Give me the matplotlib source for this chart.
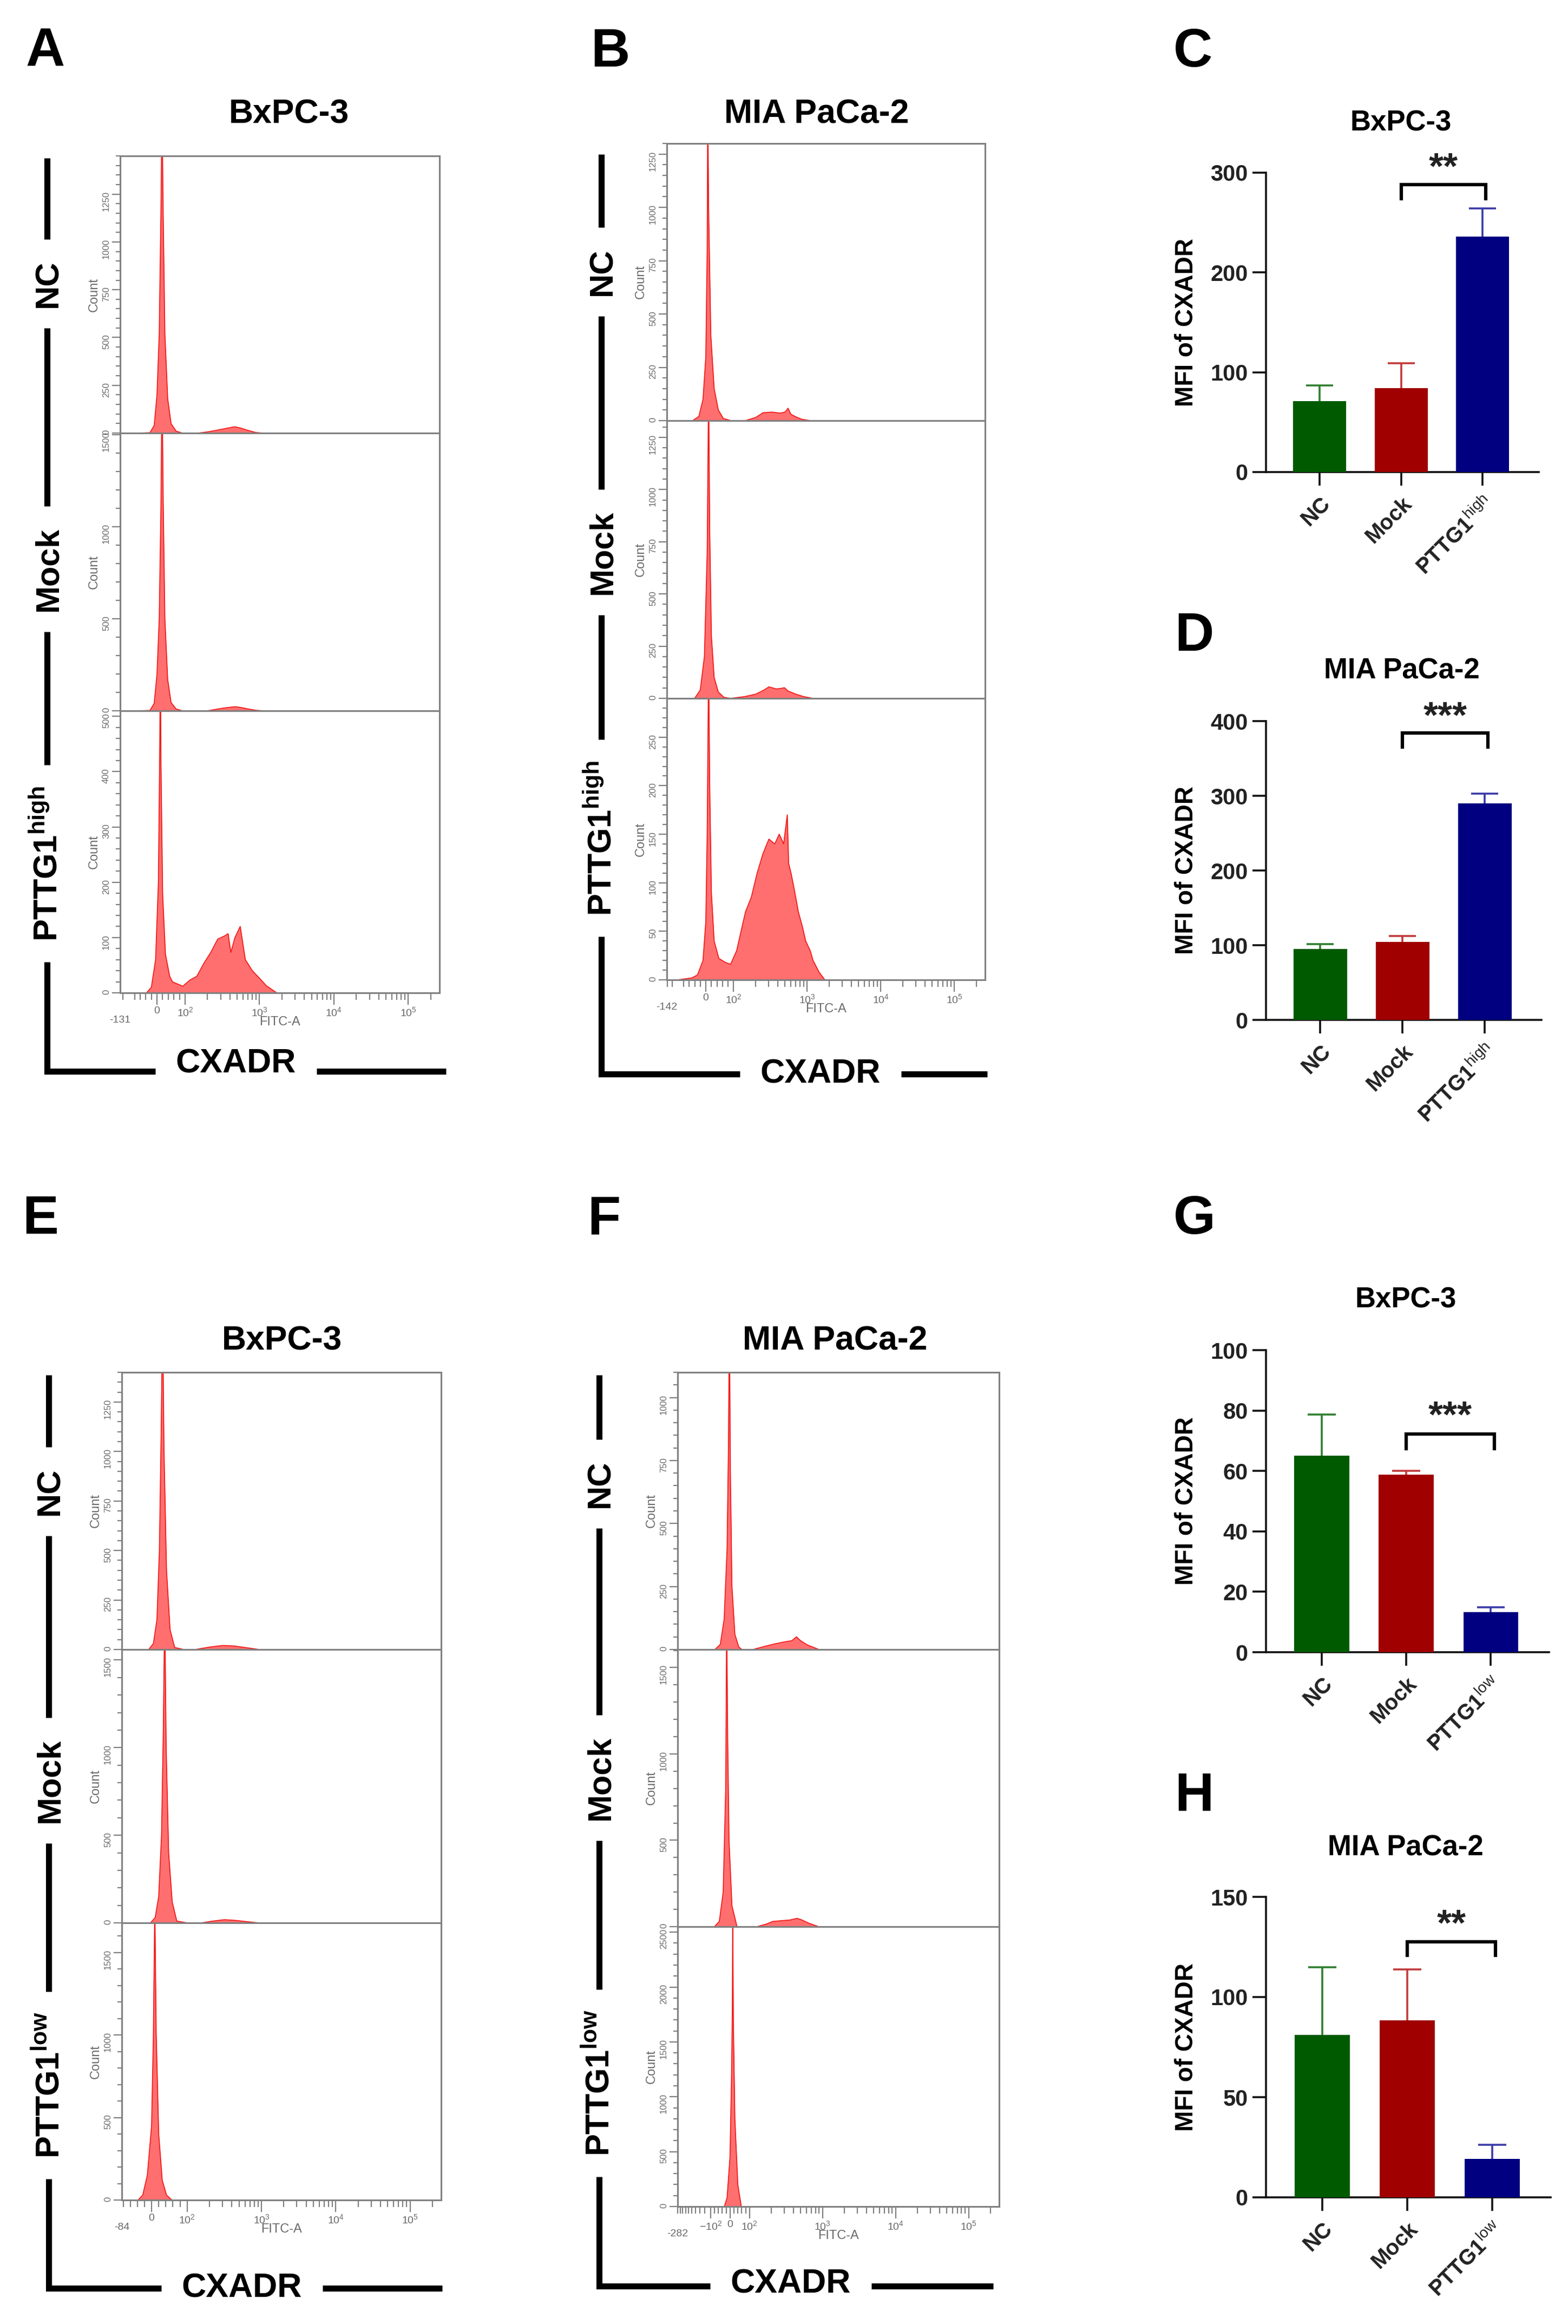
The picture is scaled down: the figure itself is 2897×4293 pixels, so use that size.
import matplotlib
matplotlib.use("Agg")
import matplotlib.pyplot as plt
import numpy as np
from matplotlib.lines import Line2D
from matplotlib.ticker import FixedLocator, MultipleLocator, AutoMinorLocator, NullFormatter

plt.rcParams["font.family"] = ["Liberation Sans", "DejaVu Sans"]
plt.rcParams["mathtext.fontset"] = "custom"
plt.rcParams["mathtext.rm"] = "Liberation Sans"
plt.rcParams["mathtext.it"] = "Liberation Sans:italic"
plt.rcParams["mathtext.bf"] = "Liberation Sans:bold"

# ---------------- data ----------------
# flow histograms: FITC-A value vs count
A_NC_x = [-60, -25, -10, 0, 8, 14, 18, 22, 28, 38, 50, 68, 90, 150, 200, 260, 330, 420, 470, 560, 700, 890, 1100]
A_NC_y = [0, 2, 40, 200, 520, 1150, 1700, 1150, 520, 180, 50, 10, 0, 0, 6, 14, 22, 30, 33, 26, 14, 3, 0]
A_MOCK_x = [-60, -25, -10, 0, 8, 14, 18, 22, 28, 38, 50, 68, 90, 200, 260, 330, 420, 470, 560, 700, 890, 1100]
A_MOCK_y = [0, 2, 40, 200, 500, 1100, 1800, 1150, 500, 170, 45, 10, 0, 0, 8, 15, 20, 22, 18, 10, 3, 0]
A_HIGH_x = [-70, -37, -20, -5, 5, 10, 12, 14, 20, 30, 45, 55, 68, 92, 116, 144, 178, 221, 274, 340,
            378, 412, 468, 550, 645, 800, 990, 1230, 1700]
A_HIGH_y = [0, 0, 10, 60, 200, 450, 620, 420, 180, 70, 30, 20, 17, 12, 23, 30, 53, 73, 97, 103,
            107, 73, 100, 120, 60, 40, 27, 13, 0]

B_NC_x = [-80, -47, -25, -10, 0, 5, 7, 10, 18, 30, 45, 63, 90, 145, 200, 251, 330, 430, 500, 550, 600, 700, 850, 1100]
B_NC_y = [0, 0, 20, 100, 300, 800, 1500, 1000, 400, 150, 50, 10, 0, 0, 15, 37, 40, 35, 40, 58, 30, 18, 6, 0]
B_MOCK_x = [-80, -40, -20, -5, 5, 10, 14, 20, 30, 45, 65, 89, 140, 200, 260, 302, 380, 450, 490, 550, 700, 900, 1200]
B_MOCK_y = [0, 0, 40, 200, 700, 1500, 800, 300, 100, 30, 5, 0, 8, 20, 40, 55, 45, 48, 51, 35, 20, 8, 0]
B_HIGH_x = [-100, -50, -30, -10, 0, 5, 10, 14, 20, 30, 47, 70, 89, 110, 145, 174, 209, 251, 302, 363,
            417, 479, 537, 560, 603, 680, 759, 860, 955, 1100, 1202, 1450, 1738]
B_HIGH_y = [0, 2, 5, 20, 60, 150, 330, 200, 90, 40, 22, 18, 16, 30, 70, 85, 110, 130, 145, 140,
            150, 140, 170, 120, 110, 90, 70, 55, 40, 30, 20, 8, 0]

E_NC_x = [-30, -8, 5, 15, 22, 27, 31, 35, 42, 52, 65, 90, 130, 200, 300, 420, 600, 930, 1200]
E_NC_y = [0, 0, 30, 150, 500, 1100, 1700, 1000, 400, 100, 10, 0, 0, 12, 20, 18, 10, 0, 0]
E_MOCK_x = [-20, -3, 10, 20, 28, 33, 37, 41, 48, 58, 71, 100, 157, 220, 320, 450, 600, 912, 1100]
E_MOCK_y = [0, 0, 30, 150, 500, 1100, 1800, 1000, 400, 120, 10, 0, 0, 10, 18, 14, 8, 0, 0]
E_LOW_x = [-60, -38, -25, -12, 0, 5, 9, 13, 20, 30, 42, 57, 80]
E_LOW_y = [0, 0, 30, 150, 450, 1000, 1800, 1000, 400, 120, 30, 0, 0]

F_NC_x = [-100, -77, -50, -30, -15, -8, -3, 2, 10, 25, 45, 61, 90, 112, 160, 220, 300, 380, 440, 500, 620, 890, 1000]
F_NC_y = [0, 0, 20, 120, 400, 800, 1300, 700, 250, 60, 10, 0, 0, 0, 12, 22, 30, 35, 50, 35, 18, 0, 0]
F_MOCK_x = [-110, -80, -55, -35, -22, -17, -12, -5, 10, 36, 60, 127, 170, 208, 280, 355, 447, 513, 650, 883, 1000]
F_MOCK_y = [0, 0, 30, 200, 800, 1800, 1100, 500, 120, 0, 0, 0, 15, 30, 35, 38, 48, 40, 20, 0, 0]
F_LOW_x = [-50, -29, -15, 0, 8, 12, 14, 17, 25, 40, 58, 80]
F_LOW_y = [0, 0, 80, 450, 1200, 1800, 2700, 1700, 800, 200, 0, 0]

# bar charts: MFI of CXADR (mean, upper error)
GROUPS_HIGH = ["NC", "Mock", r"PTTG1$^{\mathrm{high}}$"]
GROUPS_LOW = ["NC", "Mock", r"PTTG1$^{\mathrm{low}}$"]
C_VALS, C_ERRS = [71, 84, 236], [16, 25, 28]
D_VALS, D_ERRS = [95, 104, 290], [6.5, 8, 13]
G_VALS, G_ERRS = [65, 58.7, 13.3], [13.6, 1.3, 1.6]
H_VALS, H_ERRS = [81, 88.5, 19.1], [34, 25.4, 7.2]
# significance: stars, bracket foot, bracket top, star centre
C_SIG = ("**", 274, 288, 310)
D_SIG = ("***", 365, 384, 413)
G_SIG = ("***", 67.4, 72.2, 79.8)
H_SIG = ("**", 120.8, 127.7, 138.8)

BAR_COLORS = ["#005a00", "#a00000", "#000080"]
ERR_COLORS = ["#2f7f2f", "#c23a3a", "#3a3aa8"]

# ---------------- figure ----------------
W, H = 2897, 4293
fig = plt.figure(figsize=(W / 100, H / 100), dpi=100)


def add_ax(x0, x1, y0, y1):
    # pixel box with top-left origin -> figure fraction
    return fig.add_axes([x0 / W, 1 - y1 / H, (x1 - x0) / W, (y1 - y0) / H])


GRAY = "#808080"
TGRAY = "#6a6a6a"


def flow_hist(xr, yr, xs, ys, ymax, ystep, xmin, linscale, bottom=False, neg100=False):
    ax = add_ax(xr[0], xr[1], yr[0], yr[1])
    ax.set_xscale("symlog", linthresh=100, linscale=linscale, base=10)
    ax.fill_between(xs, ys, 0, color="#ff6f6f", lw=0)
    ax.plot(xs, ys, color="#f21a1a", lw=1.3)
    ax.set_xlim(xmin, 262143)
    ax.set_ylim(0, ymax)
    for s in ax.spines.values():
        s.set_color(GRAY)
        s.set_linewidth(2.2)
    major = [0, 100, 1e3, 1e4, 1e5]
    labels = ["0", "$10^2$", "$10^3$", "$10^4$", "$10^5$"]
    if neg100:
        major = [-100] + major
        labels = ["$-10^2$"] + labels
    minor = [v for v in range(-280, 100, 20) if v > xmin and v not in (-100, 0)]
    minor += [k * 10 ** e for e in (2, 3, 4) for k in range(2, 10)] + [2e5]
    ax.xaxis.set_major_locator(FixedLocator(major))
    ax.xaxis.set_minor_locator(FixedLocator(minor))
    ax.xaxis.set_minor_formatter(NullFormatter())
    ax.yaxis.set_major_locator(MultipleLocator(ystep))
    ax.yaxis.set_minor_locator(AutoMinorLocator(5))
    ax.tick_params(which="both", direction="out", color=GRAY, width=1.6, labelcolor=TGRAY)
    ax.tick_params(axis="y", which="major", length=11, labelsize=12, labelrotation=90, pad=2)
    ax.tick_params(axis="y", which="minor", length=6)
    ax.tick_params(axis="x", which="major", length=16, labelsize=14, pad=2)
    ax.tick_params(axis="x", which="minor", length=9)
    ax.set_ylabel("Count", fontsize=17, color=TGRAY, labelpad=3)
    if bottom:
        ax.set_xticklabels(labels)
        ax.set_xlabel("FITC-A", fontsize=17, color=TGRAY, labelpad=-3)
        ax.annotate(str(xmin), xy=(xmin, 0), xycoords=("data", "axes fraction"),
                    xytext=(0, -30), textcoords="offset points", ha="center", va="top",
                    fontsize=14, color=TGRAY, annotation_clip=False)
    else:
        ax.tick_params(axis="x", labelbottom=False)
    return ax


def bar_panel(xr, yr, vals, errs, ymax, ystep, names, sig):
    ax = add_ax(xr[0], xr[1], yr[0], yr[1])
    pos = np.arange(len(vals))
    tops = np.array(vals) + np.array(errs)
    ax.bar(pos, vals, width=0.65, color=BAR_COLORS, zorder=3)
    # upper-only error bars, coloured like their bar
    ax.vlines(pos, vals, tops, colors=ERR_COLORS, lw=2.6, zorder=2)
    ax.hlines(tops, pos - 0.165, pos + 0.165, colors=ERR_COLORS, lw=2.6, zorder=2)
    ax.set_xlim(-0.66, 2.69)
    ax.set_ylim(0, ymax)
    ax.spines["top"].set_visible(False)
    ax.spines["right"].set_visible(False)
    for s in ("left", "bottom"):
        ax.spines[s].set_linewidth(2.6)
        ax.spines[s].set_color("#111111")
    ax.yaxis.set_major_locator(MultipleLocator(ystep))
    ax.tick_params(axis="both", direction="out", length=18, width=2.6, color="#111111")
    ax.tick_params(axis="y", labelsize=30, labelcolor="#222222", pad=6)
    for t in ax.get_yticklabels():
        t.set_fontweight("bold")
    ax.set_xticks(pos)
    ax.set_xticklabels(names, rotation=45, ha="right", rotation_mode="anchor",
                       fontsize=29, fontweight="bold", color="#222222")
    ax.tick_params(axis="x", pad=10)
    ax.set_ylabel("MFI of CXADR", fontsize=33, fontweight="bold", labelpad=16)
    stars, y0, y1, ys = sig
    ax.plot([1.0, 1.0, 2.04, 2.04], [y0, y1, y1, y0], color="black", lw=4.5,
            solid_joinstyle="miter", clip_on=False, zorder=4)
    ax.annotate(stars, xy=(1.52, ys), xytext=(0, -21), textcoords="offset points",
                ha="center", va="baseline", fontsize=50, fontweight="bold", color="#222222",
                annotation_clip=False)
    return ax


# ---- flow cytometry histograms ----
hist_specs = [
    # x range, y range, x, y, ymax, ystep, xmin, linscale, bottom, neg100
    ((222, 812), (288, 800), A_NC_x, A_NC_y, 1450, 250, -131, 0.34, False, False),
    ((222, 812), (800, 1313), A_MOCK_x, A_MOCK_y, 1510, 500, -131, 0.34, False, False),
    ((222, 812), (1313, 1834), A_HIGH_x, A_HIGH_y, 510, 100, -131, 0.34, True, False),
    ((1232, 1820), (265, 777), B_NC_x, B_NC_y, 1300, 250, -142, 0.34, False, False),
    ((1232, 1820), (777, 1290), B_MOCK_x, B_MOCK_y, 1330, 250, -142, 0.34, False, False),
    ((1232, 1820), (1290, 1810), B_HIGH_x, B_HIGH_y, 290, 50, -142, 0.34, True, False),
    ((225, 815), (2535, 3047), E_NC_x, E_NC_y, 1400, 250, -84, 0.43, False, False),
    ((225, 815), (3047, 3552), E_MOCK_x, E_MOCK_y, 1560, 500, -84, 0.43, False, False),
    ((225, 815), (3552, 4064), E_LOW_x, E_LOW_y, 1680, 500, -84, 0.43, True, False),
    ((1252, 1846), (2535, 3047), F_NC_x, F_NC_y, 1100, 250, -282, 0.24, False, False),
    ((1252, 1846), (3047, 3559), F_MOCK_x, F_MOCK_y, 1605, 500, -282, 0.24, False, False),
    ((1252, 1846), (3559, 4076), F_LOW_x, F_LOW_y, 2550, 500, -282, 0.24, True, True),
]
for spec in hist_specs:
    flow_hist(*spec)

# ---- bar charts ----
bar_panel((2339, 2843), (319, 872), C_VALS, C_ERRS, 300, 100, GROUPS_HIGH, C_SIG)
bar_panel((2339, 2848), (1332, 1884), D_VALS, D_ERRS, 400, 100, GROUPS_HIGH, D_SIG)
bar_panel((2339, 2862), (2494, 3052), G_VALS, G_ERRS, 100, 20, GROUPS_LOW, G_SIG)
bar_panel((2339, 2865), (3504, 4059), H_VALS, H_ERRS, 150, 50, GROUPS_LOW, H_SIG)

# ---- titles and panel letters ----
def ftext(x, y, s, **kw):
    return fig.text(x / W, 1 - y / H, s, **kw)


for letter, x, y in [("A", 48, 122), ("B", 1091, 123), ("C", 2168, 123), ("D", 2170, 1202),
                     ("E", 41, 2279), ("F", 1085, 2279), ("G", 2168, 2279), ("H", 2170, 3345)]:
    ftext(x, y, letter, fontsize=72, fontweight="bold", ha="left", va="baseline")

for s, x, y, fs in [("BxPC-3", 534, 228, 45), ("MIA PaCa-2", 1509, 227, 45),
                    ("BxPC-3", 521, 2494, 45), ("MIA PaCa-2", 1543, 2494, 45),
                    ("BxPC-3", 2588, 241, 38), ("MIA PaCa-2", 2590, 1254, 38),
                    ("BxPC-3", 2597, 2416, 38), ("MIA PaCa-2", 2597, 3427, 38)]:
    ftext(x, y, s, fontsize=fs, fontweight="bold", ha="center", va="baseline")

# ---- row labels with broken lines, CXADR corner ----
side_specs = [
    # line x, line top, corner y, line end x, rows, CXADR x, CXADR baseline
    (87, 292, 1979, 824, [("NC", 524), ("Mock", 1051), (r"PTTG1$^{\mathbf{high}}$", 1595)], 436, 1982),
    (1111, 285, 1984, 1824, [("NC", 502), ("Mock", 1020), (r"PTTG1$^{\mathbf{high}}$", 1548)], 1516, 2001),
    (90, 2540, 4227, 817, [("NC", 2755), ("Mock", 3289), (r"PTTG1$^{\mathbf{low}}$", 3852)], 447, 4243),
    (1107, 2540, 4223, 1835, [("NC", 2741), ("Mock", 3284), (r"PTTG1$^{\mathbf{low}}$", 3848)], 1461, 4236),
]
made = []
for xv, ytop, yc, xend, rows, xl, yl in side_specs:
    rts = [ftext(xv + 3, yy, s, rotation=90, ha="center", va="center", fontsize=44, fontweight="bold")
           for s, yy in rows]
    ct = ftext(xl, yl, "CXADR", ha="center", va="baseline", fontsize=45, fontweight="bold")
    made.append((xv, ytop, yc, xend, rts, ct))

fig.canvas.draw()
rend = fig.canvas.get_renderer()
GAP = 38
LW = 8
for xv, ytop, yc, xend, rts, ct in made:
    cur = ytop
    for t in rts:
        bb = t.get_window_extent(rend)
        top, bot = H - bb.y1, H - bb.y0
        fig.add_artist(Line2D([xv / W, xv / W], [1 - cur / H, 1 - (top - GAP) / H],
                              transform=fig.transFigure, color="black", lw=LW, solid_capstyle="butt"))
        cur = bot + GAP
    cb = ct.get_window_extent(rend)
    fig.add_artist(Line2D([xv / W, xv / W, (cb.x0 - GAP) / W], [1 - cur / H, 1 - yc / H, 1 - yc / H],
                          transform=fig.transFigure, color="black", lw=LW,
                          solid_capstyle="butt", solid_joinstyle="miter"))
    fig.add_artist(Line2D([(cb.x1 + GAP) / W, xend / W], [1 - yc / H, 1 - yc / H],
                          transform=fig.transFigure, color="black", lw=LW, solid_capstyle="butt"))

fig.savefig("out.png", dpi=100, facecolor="white")
